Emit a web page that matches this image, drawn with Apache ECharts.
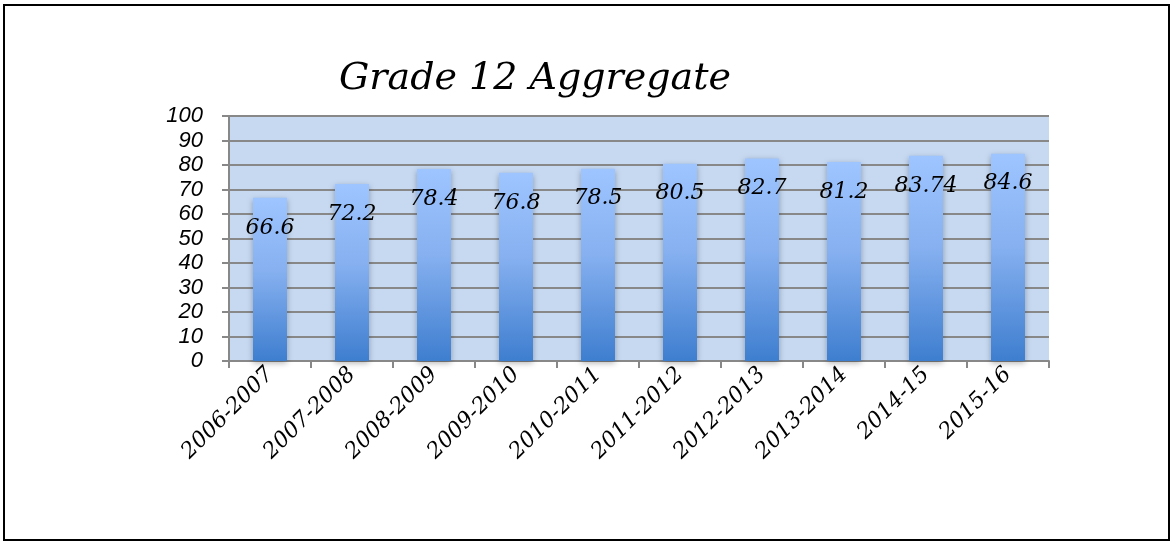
<!DOCTYPE html>
<html><head><meta charset="utf-8">
<script src="https://cdn.jsdelivr.net/npm/echarts@6/dist/echarts.min.js"></script>
<style>html,body{margin:0;padding:0;background:#fff}#c{width:1173px;height:544px}</style>
</head><body><div id="c"></div>
<script>
const categories = ['2006-2007','2007-2008','2008-2009','2009-2010','2010-2011','2011-2012','2012-2013','2013-2014','2014-15','2015-16'];
const values = [66.6, 72.2, 78.4, 76.8, 78.5, 80.5, 82.7, 81.2, 83.74, 84.6];
const yTicks = [0,10,20,30,40,50,60,70,80,90,100];
const title = 'Grade 12 Aggregate';

const chart = echarts.init(document.getElementById('c'), null, {renderer:'canvas'});
chart.setOption({
  animation:false,
  backgroundColor:'#fff',
  title:{text:title, left:334, top:55,
    textStyle:{fontFamily:'DejaVu Serif', fontStyle:'italic', fontWeight:'normal', fontSize:38, color:'#000'}},
  graphic:[{type:'rect', shape:{x:4,y:5,width:1165,height:535}, style:{fill:null, stroke:'#000', lineWidth:2}, z:100}],
  grid:{left:229, right:124, top:116, bottom:183, show:true, backgroundColor:'#C6D9F1', borderWidth:0},
  xAxis:{type:'category', data:categories,
    axisLine:{lineStyle:{color:'#888', width:2}},
    axisTick:{show:true, alignWithLabel:false, length:7, lineStyle:{color:'#888', width:2}},
    axisLabel:{rotate:45, margin:10, fontFamily:'DejaVu Serif', fontStyle:'italic', fontSize:22, color:'#000'}},
  yAxis:{type:'value', min:0, max:100, interval:10,
    axisLine:{show:true, lineStyle:{color:'#888', width:2}},
    axisTick:{show:true, length:7, lineStyle:{color:'#888', width:2}},
    splitLine:{lineStyle:{color:'#888', width:2}},
    axisLabel:{margin:26, fontFamily:'Liberation Sans', fontStyle:'italic', fontSize:22, color:'#000',
      formatter:v=>yTicks.includes(v)?String(v):''}},
  series:[{type:'bar', data:values, barWidth:34,
    itemStyle:{color:new echarts.graphic.LinearGradient(0,0,0,1,[{offset:0,color:'#9EC5FF'},{offset:0.45,color:'#86B0F0'},{offset:1,color:'#3E7ECF'}]),
      shadowColor:'rgba(0,0,0,0.3)', shadowBlur:6, shadowOffsetY:2},
    label:{show:true, position:'insideTop', distance:19, fontFamily:'DejaVu Serif', fontStyle:'italic', fontSize:22, color:'#000'}}]
});
</script></body></html>
